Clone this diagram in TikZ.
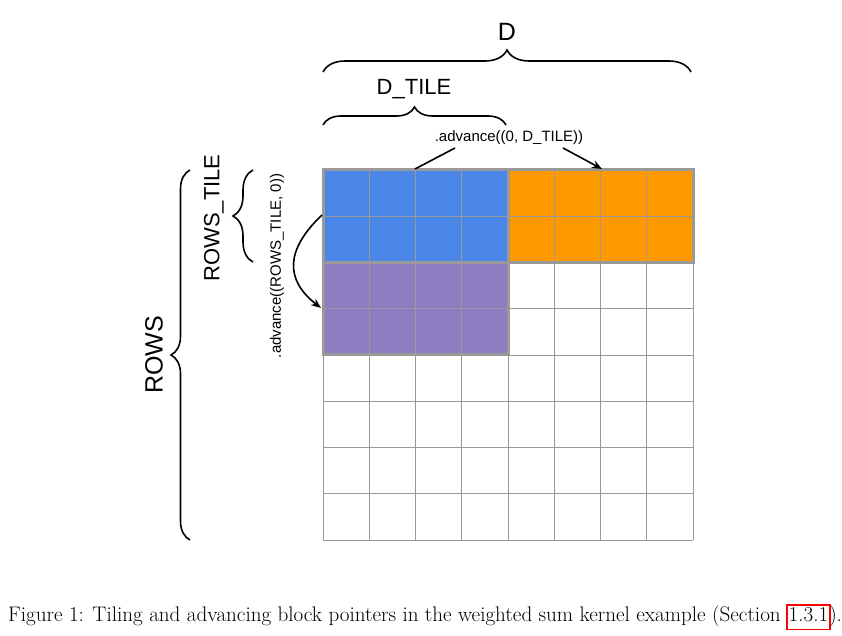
\documentclass[tikz,border=0pt]{standalone}
\usepackage{fontspec}
\newfontfamily\labelfont{Liberation Sans}
\usetikzlibrary{decorations.pathreplacing,arrows.meta}
\definecolor{tileblue}{HTML}{4A86E8}
\definecolor{tileorange}{HTML}{FF9900}
\definecolor{tilepurple}{HTML}{8E7CC3}
\definecolor{gridgray}{HTML}{999999}
\tikzset{
  gridline/.style={draw=gridgray, line width=0.9pt},
  tileedge/.style={draw=gridgray, line width=3pt},
  bracepath/.style={decorate, decoration={brace, amplitude=#1}, line width=1.6pt},
  biglabel/.style={font=\labelfont\fontsize{25}{28}\selectfont, inner sep=0pt},
  midlabel/.style={font=\labelfont\fontsize{22}{25}\selectfont, inner sep=0pt},
  smalllabel/.style={font=\labelfont\fontsize{15}{18}\selectfont, inner sep=0pt},
  pointer/.style={line width=1.6pt},
  captiontext/.style={inner sep=0pt, font=\fontsize{21.1}{24}\selectfont},
}
\begin{document}
\begin{tikzpicture}[x=1pt, y=-1pt]
\useasboundingbox (0,0) rectangle (842,636);

% coloured tiles
\fill[tileblue] (323,170) rectangle (508,262);
\fill[tileorange] (508,170) rectangle (693,262);
\fill[tilepurple] (323,262) rectangle (508,354);

% 8x8 grid of cells
\foreach \i in {0,...,8} {
  \draw[gridline] ({323+\i*46.25},170) -- ({323+\i*46.25},540);
  \draw[gridline] (323,{170+\i*46.25}) -- (693,{170+\i*46.25});
}

% tile outlines
\draw[tileedge] (323,170) rectangle (508,262);
\draw[tileedge] (508,170) rectangle (693,262);
\draw[tileedge] (323,262) rectangle (508,354);

% braces and their labels
\draw[bracepath=22pt] (323,72) -- (691,72);
\node[biglabel] (dlab) at (507,32) {D};
\draw[bracepath=18pt] (323,125) -- (506,125);
\node[midlabel] (dtilelab) at (414,89) {D\_TILE};
\draw[bracepath=19pt] (190,540) -- (190,170);
\node[biglabel, rotate=90] (rowslab) at (154,355) {ROWS};
\draw[bracepath=20pt] (253,262) -- (253,170);
\node[midlabel, rotate=90] (rowstilelab) at (214,218) {ROWS\_TILE};

% advance along D
\node[smalllabel] (advd) at (509,138) {.advance((0, D\_TILE))};
\coordinate (blueTop) at (415,169);
\coordinate (orangeTop) at (602,169);
\coordinate (advdL) at (455,148);
\coordinate (advdR) at (563,148);
\draw[pointer] (advdL) -- (blueTop);
\draw[pointer, -{Stealth[length=10pt, width=8pt]}] (advdR) -- (orangeTop);

% advance along ROWS
\node[smalllabel, rotate=90] (advr) at (277,266) {.advance((ROWS\_TILE, 0))};
\coordinate (blueLeft) at (322,215);
\coordinate (purpleLeft) at (321,308);
\draw[pointer, -{Stealth[length=10pt, width=8pt]}] (blueLeft) .. controls (285,250) and (285,280) .. (purpleLeft);

% caption, with the section number boxed in red
\node[captiontext, anchor=base west] (caption) at (8,621)
  {Figure 1: Tiling and advancing block pointers in the weighted sum kernel example (Section};
\node[captiontext, anchor=base west, draw=red, line width=1.5pt, inner xsep=1.5pt,
      text height=15pt, text depth=7.5pt, inner ysep=1pt] (secnum)
  at ([xshift=5.5pt]caption.base east) {1.3.1};
\node[captiontext, anchor=base west] (capend) at ([xshift=-1.5pt]secnum.base east) {).};
\end{tikzpicture}
\end{document}
